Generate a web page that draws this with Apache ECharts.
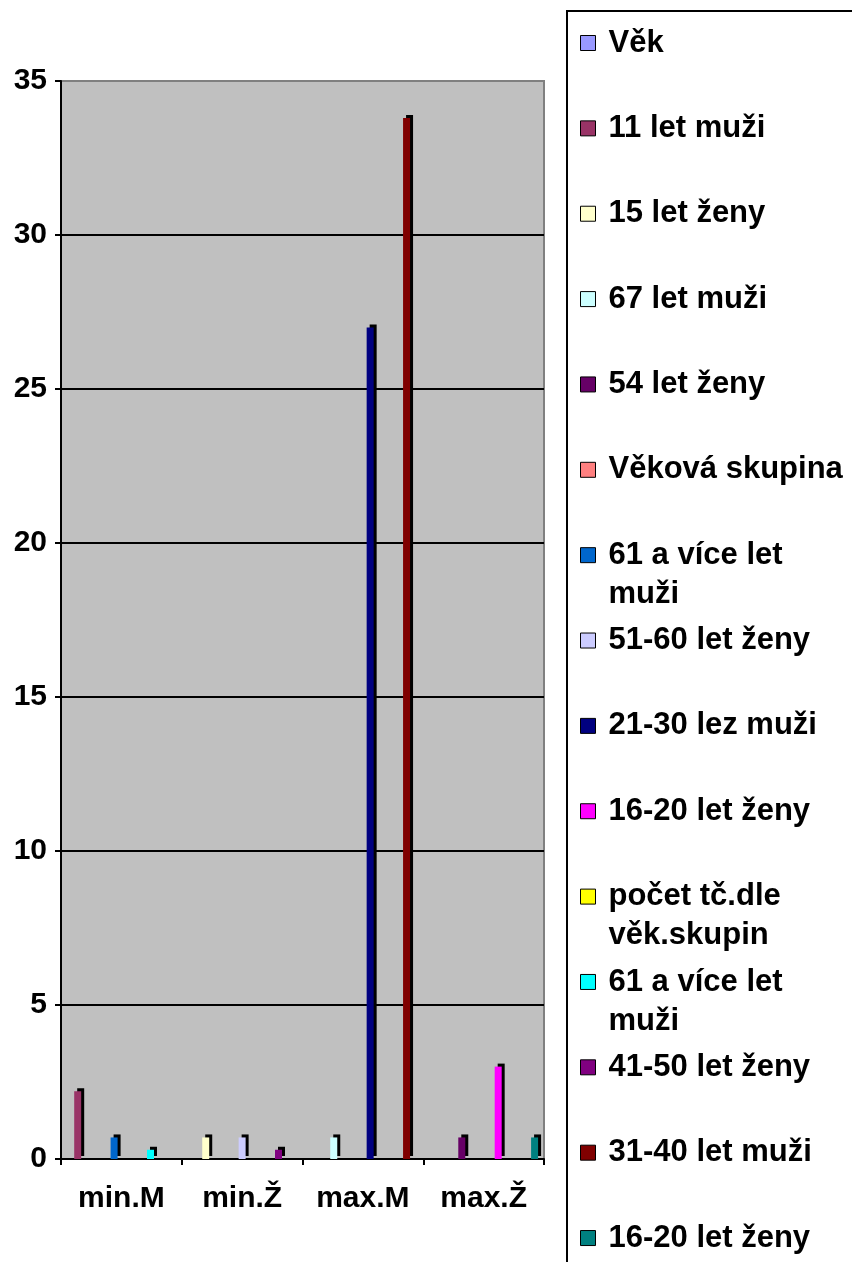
<!DOCTYPE html>
<html>
<head>
<meta charset="utf-8">
<script src="https://cdn.jsdelivr.net/npm/echarts@6/dist/echarts.min.js"></script>
<style>
  html, body { margin: 0; padding: 0; background: #ffffff; }
  #chart { width: 852px; height: 1262px; }
</style>
</head>
<body>
<div id="chart"></div>
<script>
// Categories on the x axis
const categories = ['min.M', 'min.Ž', 'max.M', 'max.Ž'];

// Series, in legend order
const seriesNames = [
  'Věk', '11 let muži', '15 let ženy', '67 let muži', '54 let ženy',
  'Věková skupina', '61 a více let muži', '51-60 let ženy', '21-30 lez muži',
  '16-20 let ženy', 'počet tč.dle věk.skupin', '61 a více let muži',
  '41-50 let ženy', '31-40 let muži', '16-20 let ženy'
];

const seriesColors = [
  '#9999FF', '#993366', '#FFFFCC', '#CCFFFF', '#660066',
  '#FF8080', '#0066CC', '#CCCCFF', '#000080', '#FF00FF',
  '#FFFF00', '#00FFFF', '#800080', '#800000', '#008080'
];

// One row per series, one value per category (null = no bar)
const seriesValues = [
  [null, null, null, null],
  [2.2, null, null, null],
  [null, 0.7, null, null],
  [null, null, 0.7, null],
  [null, null, null, 0.7],
  [null, null, null, null],
  [0.7, null, null, null],
  [null, 0.7, null, null],
  [null, null, 27, null],
  [null, null, null, 3],
  [null, null, null, null],
  [0.3, null, null, null],
  [null, 0.3, null, null],
  [null, null, 33.8, null],
  [null, null, null, 0.7]
];

// Value axis range
const yMin = 0;
const yMax = 35;
const yStep = 5;

const FONT = "'Liberation Sans', Arial, sans-serif";
const ZW = '\u200b';

// Repeated series names get a zero-width suffix so every entry keeps its own legend row
const seen = {};
const uniqueNames = seriesNames.map(function (n) {
  const k = seen[n] || 0;
  seen[n] = k + 1;
  return n + ZW.repeat(k);
});

// Split long legend labels onto two lines
function wrapLabel(label) {
  const limit = 15;
  if (label.length <= limit) return [label, ''];
  const cut = label.lastIndexOf(' ', limit);
  return [label.slice(0, cut), label.slice(cut + 1)];
}

const LINE = 39;

// Flat bars with a black offset shadow standing in for the 3-D side and top faces
const series = uniqueNames.map(function (name, i) {
  return {
    type: 'bar',
    name: name,
    data: seriesValues[i],
    barWidth: 7,
    barGap: '4%',
    itemStyle: {
      color: seriesColors[i],
      borderWidth: 0,
      shadowColor: '#000',
      shadowBlur: 0,
      shadowOffsetX: 3,
      shadowOffsetY: -3
    },
    emphasis: { disabled: true }
  };
});

const chart = echarts.init(document.getElementById('chart'), null, { renderer: 'canvas' });

chart.setOption({
  animation: false,
  backgroundColor: '#ffffff',
  color: seriesColors,
  grid: {
    left: 61,
    right: 308,
    top: 81,
    bottom: 103,
    show: true,
    backgroundColor: '#C0C0C0',
    borderColor: '#808080',
    borderWidth: 2
  },
  xAxis: {
    type: 'category',
    data: categories,
    axisLine: { show: true, lineStyle: { color: '#000', width: 2 } },
    axisTick: { show: true, length: 6, lineStyle: { color: '#000', width: 2 } },
    axisLabel: {
      interval: 0,
      fontSize: 30, fontWeight: 'bold', color: '#000', fontFamily: FONT, margin: 25
    },
    splitLine: { show: false }
  },
  yAxis: {
    type: 'value',
    min: yMin,
    max: yMax,
    interval: yStep,
    axisLine: { show: true, lineStyle: { color: '#000', width: 2 } },
    axisTick: { show: true, length: 6, lineStyle: { color: '#000', width: 2 } },
    axisLabel: {
      fontSize: 30, fontWeight: 'bold', color: '#000', fontFamily: FONT, margin: 14
    },
    splitLine: {
      show: true,
      showMaxLine: false,
      lineStyle: { color: '#000', width: 2 }
    }
  },
  legend: {
    orient: 'vertical',
    left: 580,
    top: -15.5,
    height: 1400,
    padding: 0,
    itemGap: 85.36 - 3 * LINE,
    itemWidth: 15,
    itemHeight: 15,
    icon: 'rect',
    selectedMode: false,
    data: uniqueNames,
    itemStyle: { borderColor: '#000', borderWidth: 1, shadowColor: 'transparent' },
    textStyle: {
      fontSize: 31,
      fontWeight: 'bold',
      color: '#000',
      fontFamily: FONT,
      lineHeight: LINE,
      padding: [0, 0, 0, 8]
    },
    formatter: function (name) {
      const parts = wrapLabel(name.split(ZW).join(''));
      return '\n' + parts[0] + '\n' + parts[1];
    }
  },
  graphic: [{
    type: 'rect',
    silent: true,
    z: -1,
    shape: { x: 567, y: 11, width: 400, height: 1400 },
    style: { fill: 'none', stroke: '#000', lineWidth: 2 }
  }],
  series: series
});
</script>
</body>
</html>
